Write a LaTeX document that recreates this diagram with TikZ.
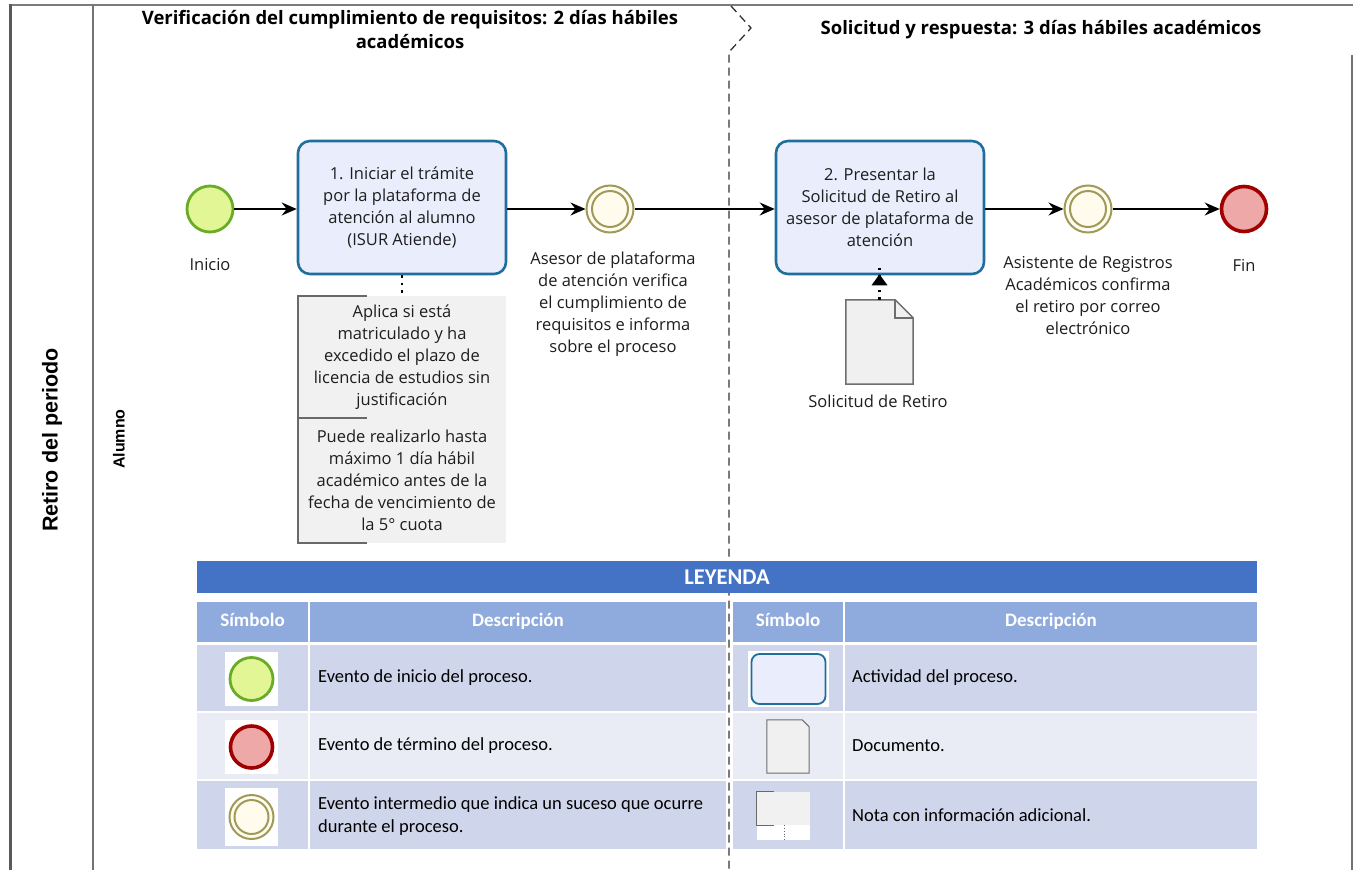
\documentclass[tikz,border=0pt]{standalone}
\usepackage{fontspec}
\setmainfont{Open Sans}
\newfontfamily\legfont{Carlito}
\newfontfamily\lanefont{Liberation Sans}
\usetikzlibrary{arrows.meta,shapes.geometric}
\definecolor{taskfill}{RGB}{234,238,252}
\definecolor{taskdraw}{RGB}{31,110,156}
\definecolor{startfill}{RGB}{226,246,150}
\definecolor{startdraw}{RGB}{106,172,40}
\definecolor{endfill}{RGB}{239,168,168}
\definecolor{enddraw}{RGB}{160,0,0}
\definecolor{intfill}{RGB}{255,252,238}
\definecolor{intdraw}{RGB}{160,154,90}
\definecolor{notefill}{RGB}{241,241,241}
\definecolor{notedraw}{RGB}{105,105,105}
\definecolor{docfill}{RGB}{240,240,240}
\definecolor{docdraw}{RGB}{110,110,110}
\definecolor{legtitle}{RGB}{68,114,196}
\definecolor{leghead}{RGB}{143,170,220}
\definecolor{rowdark}{RGB}{207,213,234}
\definecolor{rowlight}{RGB}{233,235,245}
\definecolor{poolline}{RGB}{90,90,90}
\definecolor{txt}{RGB}{30,30,30}
\tikzset{
  bodyfont/.style={font=\fontsize{16.5}{22}\selectfont, text=txt},
  taskbox/.style={draw=taskdraw, fill=taskfill, line width=2.6pt, rounded corners=12pt,
    minimum width=208pt, minimum height=133pt, align=center, bodyfont, inner sep=2pt},
  startev/.style={circle, draw=startdraw, fill=startfill, line width=2.8pt, minimum size=46pt, inner sep=0pt},
  endev/.style={circle, draw=enddraw, fill=endfill, line width=3.6pt, minimum size=45pt, inner sep=0pt},
  intev/.style={circle, draw=intdraw, fill=intfill, line width=2pt, minimum size=47pt, inner sep=0pt},
  lbl/.style={align=center, bodyfont, inner sep=0pt},
  flow/.style={line width=1.3pt, -{Stealth[length=15pt,width=13pt,inset=5pt]}},
  assoc/.style={line width=2.4pt, dash pattern=on 2.4pt off 5pt, line cap=butt},
  notebox/.style={fill=notefill, minimum width=208pt, align=center, bodyfont, inner sep=0pt},
  bracket/.style={draw=notedraw, line width=1.5pt},
  cell/.style={inner sep=0pt, draw=none},
  headtxt/.style={text=white, font=\legfont\bfseries\fontsize{19}{22}\selectfont, text height=13pt, text depth=4pt},
  legtxt/.style={anchor=west, align=left, inner sep=0pt, text=black, font=\legfont\fontsize{18.5}{23}\selectfont},
  iconbg/.style={fill=white, inner sep=0pt},
  phase/.style={align=center, font=\bfseries\fontsize{18.5}{24}\selectfont, text=black},
}
\begin{document}
\begin{tikzpicture}[x=1pt,y=-1pt]
\useasboundingbox (0,0) rectangle (1354,870);
\fill[white] (0,0) rectangle (1354,870);

% pool and lane frame
\draw[poolline!80, line width=2pt] (10,5) -- (1353,5);
\draw[poolline, line width=3pt] (10,4) -- (10,870);
\draw[poolline!85, line width=2pt] (93,5) -- (93,870);
\draw[poolline!85, line width=2pt] (1352,55) -- (1352,870);
\draw[black!80, line width=1.3pt, dash pattern=on 8pt off 5pt] (731,6) -- (751,28) -- (729,52) -- (729,870);

% lane labels
\node[rotate=90, font=\lanefont\bfseries\fontsize{21.5}{24}\selectfont] (pool) at (52,440) {Retiro del periodo};
\node[rotate=90, font=\lanefont\bfseries\fontsize{16}{19}\selectfont] (lane) at (119,439) {Alumno};

% phase headers
\node[phase] (ph1) at (410,30) {Verificación del cumplimiento de requisitos: 2 días hábiles\\académicos};
\node[phase] (ph2) at (1041,30) {Solicitud y respuesta: 3 días hábiles académicos};

% process
\node[startev] (start) at (210,209) {};
\node[lbl] (startlbl) at (210,265) {Inicio};
\node[taskbox] (t1) at (402,207.5) {1. Iniciar el trámite\\por la plataforma de\\atención al alumno\\(ISUR Atiende)};
\node[intev] (i1) at (610,209) {};
\node[circle, draw=intdraw, line width=2pt, minimum size=36pt, inner sep=0pt] (i1in) at (610,209) {};
\node[lbl] (i1lbl) at (613,304) {Asesor de plataforma\\de atención verifica\\el cumplimiento de\\requisitos e informa\\sobre el proceso};
\node[taskbox] (t2) at (880,207.5) {2. Presentar la\\Solicitud de Retiro al\\asesor de plataforma de\\atención};
\node[intev] (i2) at (1088,209) {};
\node[circle, draw=intdraw, line width=2pt, minimum size=36pt, inner sep=0pt] (i2in) at (1088,209) {};
\node[lbl] (i2lbl) at (1088,295) {Asistente de Registros\\Académicos confirma\\el retiro por correo\\electrónico};
\node[endev] (fin) at (1244,209) {};
\node[lbl] (finlbl) at (1244,265) {Fin};

\draw[flow] (start.east) -- (start.east -| t1.west);
\draw[flow] (t1.east |- i1.west) -- (i1.west);
\draw[flow] (i1.east) -- (i1.east -| t2.west);
\draw[flow] (t2.east |- i2.west) -- (i2.west);
\draw[flow] (i2.east) -- (fin.west);

% notes
\node[notebox, minimum height=122pt] (n1) at (402,357) {Aplica si está\\matriculado y ha\\excedido el plazo de\\licencia de estudios sin\\justificación};
\node[notebox, minimum height=125pt] (n2) at (402,480.5) {Puede realizarlo hasta\\máximo 1 día hábil\\académico antes de la\\fecha de vencimiento de\\la 5° cuota};
\draw[bracket] ([xshift=69pt]n1.north west) -- (n1.north west) -- (n1.south west) -- ([xshift=69pt]n1.south west);
\draw[bracket] (n2.north west) -- (n2.south west) -- ([xshift=69pt]n2.south west);
\draw[assoc] (t1.south) -- (n1.north);

% document
\node[minimum width=67pt, minimum height=84pt, inner sep=0pt] (doc) at (879.5,342) {};
\filldraw[fill=docfill, draw=docdraw, line width=1.5pt] (doc.north west) -- ([xshift=-18pt]doc.north east) -- ([yshift=-18pt]doc.north east) -- (doc.south east) -- (doc.south west) -- cycle;
\draw[docdraw, line width=1.5pt] ([xshift=-18pt]doc.north east) -- ([xshift=-18pt,yshift=-18pt]doc.north east) -- ([yshift=-18pt]doc.north east);
\node[lbl] (doclbl) at (878,401) {Solicitud de Retiro};
\draw[assoc] (doc.north) -- ([yshift=12pt]doc.north |- t2.south);
\fill[black] ([yshift=1pt]doc.north |- t2.south) -- ++(-8,11) -- ++(16,0) -- cycle;

% legend
\node[cell, fill=legtitle, minimum width=1060pt, minimum height=32pt, text=white, font=\legfont\bfseries\fontsize{22.5}{24}\selectfont] (lt) at (727,577) {LEYENDA};
\node[cell, fill=leghead, minimum width=111pt, minimum height=40pt, headtxt] (h1) at (252.5,622) {Símbolo};
\node[cell, fill=leghead, minimum width=416pt, minimum height=40pt, headtxt] (h2) at (518,622) {Descripción};
\node[cell, fill=leghead, minimum width=110pt, minimum height=40pt, headtxt] (h3) at (788,622) {Símbolo};
\node[cell, fill=leghead, minimum width=412pt, minimum height=40pt, headtxt] (h4) at (1051,622) {Descripción};

\node[cell, fill=rowdark, minimum width=111pt, minimum height=66pt] (r1a) at (252.5,678) {};
\node[cell, fill=rowdark, minimum width=416pt, minimum height=66pt] (r1b) at (518,678) {};
\node[cell, fill=rowdark, minimum width=110pt, minimum height=66pt] (r1c) at (788,678) {};
\node[cell, fill=rowdark, minimum width=412pt, minimum height=66pt] (r1d) at (1051,678) {};
\node[cell, fill=rowlight, minimum width=111pt, minimum height=66pt] (r2a) at (252.5,746) {};
\node[cell, fill=rowlight, minimum width=416pt, minimum height=66pt] (r2b) at (518,746) {};
\node[cell, fill=rowlight, minimum width=110pt, minimum height=66pt] (r2c) at (788,746) {};
\node[cell, fill=rowlight, minimum width=412pt, minimum height=66pt] (r2d) at (1051,746) {};
\node[cell, fill=rowdark, minimum width=111pt, minimum height=68pt] (r3a) at (252.5,815) {};
\node[cell, fill=rowdark, minimum width=416pt, minimum height=68pt] (r3b) at (518,815) {};
\node[cell, fill=rowdark, minimum width=110pt, minimum height=68pt] (r3c) at (788,815) {};
\node[cell, fill=rowdark, minimum width=412pt, minimum height=68pt] (r3d) at (1051,815) {};

% legend icons
\node[iconbg, minimum width=53pt, minimum height=54pt] (ic1) at (251.5,679) {};
\node[startev, minimum size=43pt] (ls) at (251.5,679) {};
\node[iconbg, minimum width=53pt, minimum height=54pt] (ic2) at (251.5,747) {};
\node[endev, minimum size=42pt] (le) at (251.5,747) {};
\node[iconbg, minimum width=53pt, minimum height=58pt] (ic3) at (251.5,817) {};
\node[intev, minimum size=44pt] (li) at (251.5,817) {};
\node[circle, draw=intdraw, line width=2pt, minimum size=34pt, inner sep=0pt] (liin) at (251.5,817) {};

\node[iconbg, minimum width=81pt, minimum height=56pt] (ic4) at (788.5,679) {};
\node[draw=taskdraw, fill=taskfill, line width=1.8pt, rounded corners=8pt, minimum width=74pt, minimum height=50pt, inner sep=0pt] (la) at (788.5,679) {};
\node[minimum width=42pt, minimum height=53pt, inner sep=0pt] (ld) at (788,746.5) {};
\filldraw[fill=docfill, draw=docdraw, line width=1pt] (ld.north west) -- ([xshift=-7pt]ld.north east) -- ([yshift=-7pt]ld.north east) -- (ld.south east) -- (ld.south west) -- cycle;
\node[iconbg, minimum width=53pt, minimum height=48pt] (ic6) at (783.5,816) {};
\node[fill=notefill, minimum width=53pt, minimum height=33pt, inner sep=0pt] (ln) at (783.5,808.5) {};
\draw[notedraw, line width=1pt] ([xshift=17pt]ln.north west) -- (ln.north west) -- (ln.south west) -- ([xshift=17pt]ln.south west);
\coordinate (lnend) at (784,840);
\draw[notedraw, line width=0.8pt, dotted] (ln.south -| lnend) -- (lnend);

% legend texts
\node[legtxt] (d1) at (318,678) {Evento de inicio del proceso.};
\node[legtxt] (d2) at (318,746) {Evento de término del proceso.};
\node[legtxt] (d3) at (318,816) {Evento intermedio que indica un suceso que ocurre\\durante el proceso.};
\node[legtxt] (d4) at (852,678) {Actividad del proceso.};
\node[legtxt] (d5) at (852,746) {Documento.};
\node[legtxt] (d6) at (852,815) {Nota con información adicional.};
\end{tikzpicture}
\end{document}
